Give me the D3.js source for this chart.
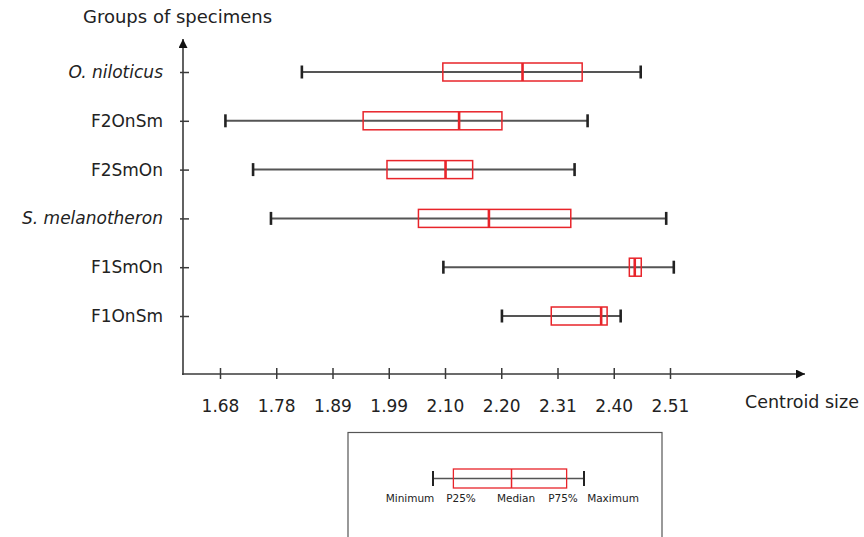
<!DOCTYPE html>
<html>
<head>
<meta charset="utf-8">
<script src="https://cdn.jsdelivr.net/npm/d3@7"></script>
<style>
  html, body { margin: 0; padding: 0; background: #fff; }
  svg { display: block; font-family: "DejaVu Sans", Verdana, sans-serif; }
</style>
</head>
<body>
<svg id="chart" width="864" height="537"></svg>
<script>
// ---- data ----
const groups = ["O. niloticus", "F2OnSm", "F2SmOn", "S. melanotheron", "F1SmOn", "F1OnSm"];
const italicGroups = ["O. niloticus", "S. melanotheron"];
const minimum = [1.831, 1.690, 1.741, 1.774, 2.092, 2.200];
const p25     = [2.091, 1.944, 1.988, 2.046, 2.435, 2.291];
const median  = [2.238, 2.121, 2.096, 2.176, 2.445, 2.383];
const p75     = [2.348, 2.200, 2.146, 2.327, 2.457, 2.394];
const maximum = [2.456, 2.358, 2.334, 2.503, 2.517, 2.419];
const tickLabels = ["1.68", "1.78", "1.89", "1.99", "2.10", "2.20", "2.31", "2.40", "2.51"];
const legendLabels = ["Minimum", "P25%", "Median", "P75%", "Maximum"];

const rows = groups.map((g, i) => ({
  g, min: minimum[i], q1: p25[i], med: median[i], q3: p75[i], max: maximum[i]
}));

const svg = d3.select("#chart");
const axisColor = "#3a3a3a";
const whiskerColor = "#555";
const red = "#e8242a";

const lo = +tickLabels[0], hi = +tickLabels[tickLabels.length - 1];
const x = d3.scaleLinear().domain([lo, hi]).range([220, 670]);
const y = d3.scalePoint().domain(groups).range([72, 316]);
const tickVals = tickLabels.map((t, i) => lo + (hi - lo) * i / (tickLabels.length - 1));

const axisY0 = 374, axisX0 = 183;

// markers
const defs = svg.append("defs");
defs.append("marker").attr("id", "arr").attr("viewBox", "0 0 10 10")
  .attr("refX", 10).attr("refY", 5).attr("markerWidth", 10).attr("markerHeight", 9)
  .attr("markerUnits", "userSpaceOnUse").attr("orient", "auto")
  .append("path").attr("d", "M0,0 L10,5 L0,10 Z").attr("fill", "#111");

// x axis
const xAxis = d3.axisBottom(x).tickValues(tickVals)
  .tickFormat((d, i) => tickLabels[i]).tickSizeInner(0).tickSizeOuter(0).tickPadding(26);
const gx = svg.append("g").attr("transform", `translate(0,${axisY0})`).call(xAxis);
gx.select(".domain").remove();
gx.selectAll(".tick text").attr("font-size", 17).attr("fill", "#222")
  .attr("font-family", "'DejaVu Sans', Verdana, sans-serif");
gx.selectAll(".tick").append("line").attr("y1", -6).attr("y2", 5)
  .attr("stroke", axisColor).attr("stroke-width", 1.5);
svg.append("line").attr("x1", axisX0 - 1).attr("x2", 805).attr("y1", axisY0).attr("y2", axisY0)
  .attr("stroke", axisColor).attr("stroke-width", 1.6).attr("marker-end", "url(#arr)");

// y axis
const yAxis = d3.axisLeft(y).tickSize(0).tickPadding(20).tickFormat(d => d);
const gy = svg.append("g").attr("transform", `translate(${axisX0},0)`).call(yAxis);
gy.select(".domain").remove();
gy.selectAll(".tick text").attr("font-size", 17).attr("fill", "#222")
  .attr("font-family", "'DejaVu Sans', Verdana, sans-serif")
  .attr("font-style", d => italicGroups.includes(d) ? "italic" : "normal");
gy.selectAll(".tick").append("line").attr("x1", -3).attr("x2", 6)
  .attr("stroke", axisColor).attr("stroke-width", 1.5);
svg.append("line").attr("x1", axisX0).attr("x2", axisX0).attr("y1", axisY0 + 1).attr("y2", 39)
  .attr("stroke", axisColor).attr("stroke-width", 1.6).attr("marker-end", "url(#arr)");

// axis titles
svg.append("text").attr("x", 83).attr("y", 23).attr("font-size", 18).attr("fill", "#222")
  .text("Groups of specimens");
svg.append("text").attr("x", 745).attr("y", 408).attr("font-size", 17.5).attr("fill", "#222")
  .text("Centroid size");

// boxplots
function drawBox(g, xs, cy, boxH, capH, wStroke, capStroke, boxStroke, medStroke) {
  g.append("line").attr("x1", xs.min).attr("x2", xs.max).attr("y1", cy).attr("y2", cy)
    .attr("stroke", whiskerColor).attr("stroke-width", wStroke);
  [xs.min, xs.max].forEach(v => g.append("line").attr("x1", v).attr("x2", v)
    .attr("y1", cy - capH / 2).attr("y2", cy + capH / 2)
    .attr("stroke", "#222").attr("stroke-width", capStroke));
  g.append("rect").attr("x", xs.q1).attr("y", cy - boxH / 2)
    .attr("width", xs.q3 - xs.q1).attr("height", boxH)
    .attr("fill", "none").attr("stroke", red).attr("stroke-width", boxStroke);
  g.append("line").attr("x1", xs.med).attr("x2", xs.med)
    .attr("y1", cy - boxH / 2).attr("y2", cy + boxH / 2)
    .attr("stroke", red).attr("stroke-width", medStroke);
}

const gb = svg.append("g");
rows.forEach(r => {
  drawBox(gb.append("g"), {min: x(r.min), q1: x(r.q1), med: x(r.med), q3: x(r.q3), max: x(r.max)},
    y(r.g), 18, 13, 2, 2.6, 1.5, 2.6);
});

// legend
svg.append("rect").attr("x", 348).attr("y", 432.5).attr("width", 314).attr("height", 110)
  .attr("fill", "none").attr("stroke", "#555").attr("stroke-width", 1.2);
const lx = d3.scaleLinear().domain([0, 1]).range([433, 584]);
const legendPos = [0, 0.135, 0.52, 0.885, 1];
const lg = svg.append("g");
drawBox(lg, {min: lx(legendPos[0]), q1: lx(legendPos[1]), med: lx(legendPos[2]), q3: lx(legendPos[3]), max: lx(legendPos[4])},
  478.5, 19, 15, 1.5, 2, 1.3, 1.5);
const legendTextX = [410, 461, 516, 563, 613];
legendLabels.forEach((t, i) => {
  lg.append("text").attr("x", legendTextX[i]).attr("y", 502).attr("text-anchor", "middle")
    .attr("font-size", 10.5).attr("fill", "#222").text(t);
});
</script>
</body>
</html>
